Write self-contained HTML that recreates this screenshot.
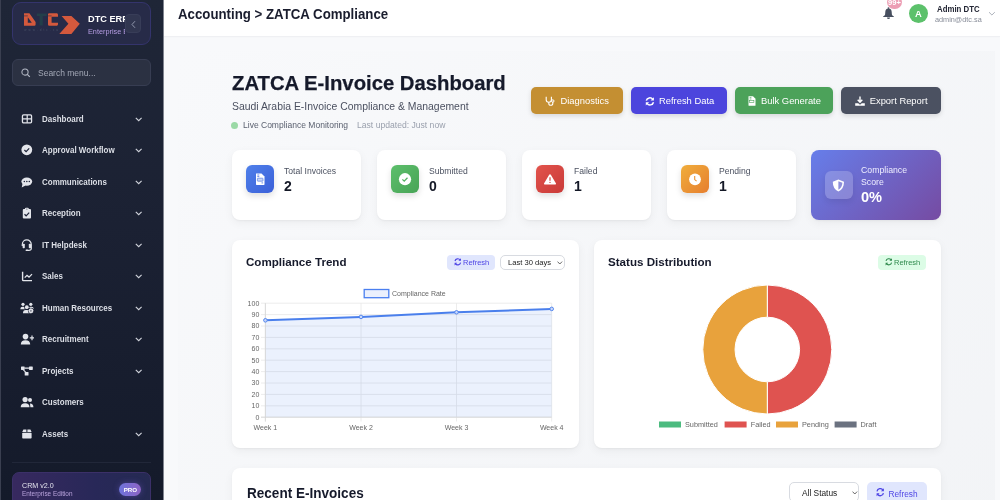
<!DOCTYPE html>
<html><head><meta charset="utf-8">
<style>
*{box-sizing:border-box;margin:0;padding:0}
html,body{width:1000px;height:500px;overflow:hidden;background:#f7f8fa;font-family:"Liberation Sans",Arial,sans-serif;}
.a{position:absolute;white-space:nowrap}
#sb{position:absolute;left:0;top:0;width:163px;height:500px;background:linear-gradient(180deg,#1f2637 0%,#1b2133 45%,#141a2a 100%);overflow:hidden}
#logo{position:absolute;left:12px;top:2px;width:139px;height:42.8px;border-radius:9px;background:#272b48;border:1px solid #34346c;overflow:hidden}
#collapse{position:absolute;left:125px;top:14px;width:16px;height:19px;border-radius:4px;background:#313650;border:1px solid #383d58}
#search{position:absolute;left:12px;top:59px;width:139px;height:27px;border-radius:6px;background:#2b3142;border:1px solid #373d52;}
.mi{position:absolute;left:0;width:163px;height:16px;color:#dcdfe6;font-weight:bold;font-size:8.6px;}
.mi .t{position:absolute;left:42px;top:3.3px;white-space:nowrap;transform:scaleX(.93);transform-origin:0 0}
.mi svg.ic{position:absolute;left:20px;top:1px}
.mi svg.ch{position:absolute;left:135px;top:6px}
#hdr{position:absolute;left:163px;top:0;width:837px;height:37.4px;background:#fff;border-bottom:1px solid #eff0f3;box-shadow:0 0 2px rgba(0,0,0,.03)}
.card{position:absolute;background:#fff;border-radius:8px;box-shadow:0 3px 10px rgba(0,0,0,.05),0 1px 2px rgba(0,0,0,.04)}
.btn{position:absolute;top:87px;height:27px;border-radius:5px;color:#fff;font-size:9.4px;box-shadow:0 2px 5px rgba(0,0,0,.13)}
.btn span{position:absolute;top:8px}
.btn svg{position:absolute}
.sc .ib{position:absolute;left:14px;top:15px;width:28px;height:28px;border-radius:6px;box-shadow:0 3px 6px rgba(0,0,0,.13)}
.sc .ib svg{position:absolute;left:0;top:0}
.sc .lb{position:absolute;left:52px;top:16px;font-size:8.6px;color:#4b5160;white-space:nowrap}
.sc .vl{position:absolute;left:52px;top:27.5px;font-size:14px;font-weight:bold;color:#141826}
.ct{position:absolute;font-size:11.6px;font-weight:bold;color:#161a2b;white-space:nowrap}
.rbtn{position:absolute;height:15px;border-radius:4px;font-size:7.5px;}
.sel{position:absolute;height:16px;border-radius:5px;background:#fff;border:1px solid #d8dbe1;font-size:7.6px;color:#222}
</style></head><body>
<div id="root" style="position:absolute;left:0;top:0;width:1000px;height:500px;will-change:transform;background:#f8f9fb">
<div id="sb"><div class="a" style="left:0;top:0;width:1.3px;height:500px;background:#3a3f50"></div>
  <div id="logo">
    <svg class="a" style="left:-1px;top:-1px" width="139" height="42" viewBox="12 2 139 42">
      <path fill="#d4593d" fill-rule="evenodd" d="M24 13.2H29.4L35.6 22V24.6Q35.6 25.8 34.4 25.8H24ZM27.8 17.2V22.8H31.8Z"/>
      <path fill="#233f4a" d="M36.8 13.4H46.8V16H42.8V25.6H39.6V16H36.8Z"/>
      <path fill="#d4593d" d="M48 14.4Q48 13.2 49.2 13.2H57.2L58 14.6V16.8H51.6V22.8H58V24.4L57.2 25.8H49.2Q48 25.8 48 24.6Z"/>
      <path stroke="#282b4a" stroke-width=".6" d="M24 15.9H27.8M48 15.9H51.6"/>
      <path fill="#d4593d" d="M61.6 16.1H71.4L79.8 23.8L71.4 34H59.3L68.4 23.8Z"/>
      <text x="24.3" y="30.7" font-size="3" fill="#485066" letter-spacing="2.05" font-family="Liberation Sans">www.dtc.sa</text>
    </svg>
    <div class="a" style="left:75px;top:0;width:37px;height:40px;overflow:hidden">
    <div class="a" style="left:0;top:11px;color:#fff;font-weight:bold;font-size:9.2px;">DTC ERP</div>
    <div class="a" style="left:0;top:24px;color:#b59ce2;font-size:7.3px;">Enterprise Edition</div></div>
  </div>
  <div id="collapse"><svg class="a" style="left:4px;top:5px" width="8" height="9"><path d="M5 1.2L2 4.5L5 7.8" fill="none" stroke="#9aa0b5" stroke-width="0.9"/></svg></div>
  <div id="search">
    <svg class="a" style="left:8px;top:8px" width="10" height="10"><circle cx="4" cy="4" r="3.1" fill="none" stroke="#b3b8c4" stroke-width="1.05"/><path d="M6.3 6.3L8.8 8.8" stroke="#b3b8c4" stroke-width="1.2"/></svg>
    <div class="a" style="left:25px;top:7.7px;color:#a3a8b6;font-size:8.5px;">Search menu...</div>
  </div>
  <div class="mi" style="top:110.5px"><svg class="ic" width="14" height="14"><rect x="2.45" y="2.95" width="9.1" height="7.9" rx="1.1" fill="none" stroke="#e3e5eb" stroke-width="1.3"/><path d="M7.2 2.95v7.9M2.45 6.9h9.1" stroke="#e3e5eb" stroke-width="1.2"/></svg><span class="t">Dashboard</span><svg class="ch" width="8" height="5"><path d="M.8.8L3.7 3.6 6.6.8" fill="none" stroke="#d0d3db" stroke-width="1.15"/></svg></div>
  <div class="mi" style="top:142px"><svg class="ic" width="14" height="14"><circle cx="6.8" cy="6.8" r="5.4" fill="#e3e5eb"/><path d="M4.4 7l1.7 1.6 3.1-3.2" fill="none" stroke="#1c2236" stroke-width="1.2"/></svg><span class="t">Approval Workflow</span><svg class="ch" width="8" height="5"><path d="M.8.8L3.7 3.6 6.6.8" fill="none" stroke="#d0d3db" stroke-width="1.15"/></svg></div>
  <div class="mi" style="top:173.5px"><svg class="ic" width="14" height="14"><ellipse cx="6.8" cy="6.6" rx="5.4" ry="4.2" fill="#e3e5eb"/><path d="M2.6 8.5L1.7 12.4L5.5 10.5Z" fill="#e3e5eb"/><circle cx="4.3" cy="6.6" r=".75" fill="#1c2236"/><circle cx="6.8" cy="6.6" r=".75" fill="#1c2236"/><circle cx="9.3" cy="6.6" r=".75" fill="#1c2236"/></svg><span class="t">Communications</span><svg class="ch" width="8" height="5"><path d="M.8.8L3.7 3.6 6.6.8" fill="none" stroke="#d0d3db" stroke-width="1.15"/></svg></div>
  <div class="mi" style="top:205px"><svg class="ic" width="14" height="14"><rect x="2.8" y="3" width="8.2" height="9.5" rx="1" fill="#e3e5eb"/><rect x="4.9" y="1.7" width="3.9" height="2.6" rx="1.2" fill="#e3e5eb"/><circle cx="6.9" cy="3" r=".55" fill="#1c2236"/><path d="M4.5 8.3l1.6 1.5 3.1-3.2" fill="none" stroke="#1c2236" stroke-width="1.2"/></svg><span class="t">Reception</span><svg class="ch" width="8" height="5"><path d="M.8.8L3.7 3.6 6.6.8" fill="none" stroke="#d0d3db" stroke-width="1.15"/></svg></div>
  <div class="mi" style="top:236.5px"><svg class="ic" width="14" height="14"><path d="M2.3 8V6.4a4.5 4.5 0 0 1 9 0V10.5q0 1.8-2.5 1.8H6.5" fill="none" stroke="#e3e5eb" stroke-width="1.2"/><rect x="2.6" y="5.8" width="2.2" height="4.4" rx=".8" fill="#e3e5eb"/><rect x="8.8" y="5.8" width="2.2" height="4.4" rx=".8" fill="#e3e5eb"/><rect x="5.5" y="11.4" width="2.5" height="1.6" rx=".8" fill="#e3e5eb"/></svg><span class="t">IT Helpdesk</span><svg class="ch" width="8" height="5"><path d="M.8.8L3.7 3.6 6.6.8" fill="none" stroke="#d0d3db" stroke-width="1.15"/></svg></div>
  <div class="mi" style="top:268px"><svg class="ic" width="14" height="14"><path d="M2.6 2.8V10.8Q2.6 11.6 3.4 11.6H12" fill="none" stroke="#e3e5eb" stroke-width="1.4"/><path d="M4.7 8.6L7 6.3l2 1.8 3-3" fill="none" stroke="#e3e5eb" stroke-width="1.3"/></svg><span class="t">Sales</span><svg class="ch" width="8" height="5"><path d="M.8.8L3.7 3.6 6.6.8" fill="none" stroke="#d0d3db" stroke-width="1.15"/></svg></div>
  <div class="mi" style="top:299.5px"><svg class="ic" width="14" height="14"><g fill="#e3e5eb"><circle cx="3" cy="3.3" r="1.6"/><path d="M0.3 8.2q0-2.4 2.2-2.4h.9q2.2 0 2.2 2.4z"/><circle cx="10.8" cy="3.3" r="1.6"/><path d="M8.4 8.2q0-2.4 2.2-2.4h.9q2.2 0 2.2 2.4z"/></g><circle cx="6.8" cy="6.2" r="2.6" fill="#1b2134"/><path d="M2.3 12.6q0-3.8 3.2-3.8h1.4q3.2 0 3.2 3.8z" fill="#1b2134"/><g fill="#e3e5eb"><circle cx="6.8" cy="6.2" r="1.9"/><path d="M3 12.3q0-3.2 2.8-3.2h1.6q2.8 0 2.8 3.2z"/></g><circle cx="10.9" cy="9.8" r="3" fill="#1b2134"/><circle cx="10.9" cy="9.8" r="1.7" fill="none" stroke="#e3e5eb" stroke-width="1.3"/><path d="M10.9 7.2v5.2M8.3 9.8h5.2M9.1 8l3.6 3.6M12.7 8l-3.6 3.6" stroke="#e3e5eb" stroke-width=".8"/><circle cx="10.9" cy="9.8" r=".6" fill="#1b2134"/></svg><span class="t">Human Resources</span><svg class="ch" width="8" height="5"><path d="M.8.8L3.7 3.6 6.6.8" fill="none" stroke="#d0d3db" stroke-width="1.15"/></svg></div>
  <div class="mi" style="top:331px"><svg class="ic" width="14" height="14"><circle cx="5.5" cy="4.6" r="2.8" fill="#e3e5eb"/><path d="M0.8 12.6q0-4.3 4.7-4.3t4.7 4.3z" fill="#e3e5eb"/><path d="M12 3.6v4.6M9.8 5.9h4.4" stroke="#e3e5eb" stroke-width="1.2"/></svg><span class="t">Recruitment</span><svg class="ch" width="8" height="5"><path d="M.8.8L3.7 3.6 6.6.8" fill="none" stroke="#d0d3db" stroke-width="1.15"/></svg></div>
  <div class="mi" style="top:362.5px"><svg class="ic" width="14" height="14"><rect x="1" y="2.4" width="3.7" height="3.5" rx=".6" fill="#e3e5eb"/><rect x="9" y="2.4" width="3.8" height="3.5" rx=".6" fill="#e3e5eb"/><rect x="4.7" y="8" width="3.8" height="3.6" rx=".6" fill="#e3e5eb"/><path d="M4.6 4.1h4.6M3.2 5.6l2.8 3" stroke="#e3e5eb" stroke-width="1.1"/></svg><span class="t">Projects</span><svg class="ch" width="8" height="5"><path d="M.8.8L3.7 3.6 6.6.8" fill="none" stroke="#d0d3db" stroke-width="1.15"/></svg></div>
  <div class="mi" style="top:394px"><svg class="ic" width="14" height="14"><circle cx="5.1" cy="4.6" r="2.6" fill="#e3e5eb"/><path d="M0.7 12.2q0-4 4.4-4t4.4 4z" fill="#e3e5eb"/><circle cx="10" cy="5" r="2" fill="#e3e5eb"/><path d="M10 8.6q3.3 0 3.4 3.6h-3z" fill="#e3e5eb"/></svg><span class="t">Customers</span></div>
  <div class="mi" style="top:425.5px"><svg class="ic" width="14" height="14"><path d="M2.2 5L3.4 2.5h3V5zM7.4 2.5h3L11.6 5H7.4z" fill="#e3e5eb"/><rect x="2.2" y="5.8" width="9.4" height="5.7" rx=".8" fill="#e3e5eb"/></svg><span class="t">Assets</span><svg class="ch" width="8" height="5"><path d="M.8.8L3.7 3.6 6.6.8" fill="none" stroke="#d0d3db" stroke-width="1.15"/></svg></div>
  <div class="a" style="left:12px;top:462px;width:139px;height:1px;background:#212739"></div>
  <div class="a" style="left:12px;top:472px;width:139px;height:40px;border-radius:7px;background:linear-gradient(90deg,#37295f,#282858 60%,#252a52);border:1px solid #3b3068">
    <div class="a" style="left:9px;top:7.6px;color:#e2e2ec;font-size:7.6px;transform:scaleX(.94);transform-origin:0 0">CRM v2.0</div>
    <div class="a" style="left:9px;top:17.3px;color:#b9a3dc;font-size:6.4px">Enterprise Edition</div>
    <div class="a" style="left:106.4px;top:9.5px;width:22px;height:13.5px;border-radius:7px;background:linear-gradient(90deg,#6e74dc,#8d63c4);color:#fff;font-size:6.2px;font-weight:bold;text-align:center;line-height:13.5px;box-shadow:0 0 6px rgba(120,100,220,.4)">PRO</div>
  </div>
</div>
<div class="a" style="left:178px;top:51.4px;width:817px;height:1500px;background:linear-gradient(135deg,#f8f9fb 0%,#eef0f3 100%)"></div>
<div class="a" style="left:163px;top:0;width:1px;height:500px;background:#80848f;z-index:5"></div>
<div id="hdr">
  <div class="a" style="left:15px;top:5.7px;font-size:14.66px;font-weight:bold;color:#1a1d2e;transform:scaleX(.904);transform-origin:0 0">Accounting &gt; ZATCA Compliance</div>
  <svg class="a" style="left:715px;top:0" width="25" height="25" viewBox="878 0 25 25"><circle cx="888.5" cy="8.1" r="0.9" fill="#474f5f"/><path d="M888.5 8.4C886.2 8.4 885.3 10.1 885.3 12.1L885.1 14.4C885 15.3 884.3 15.8 883.2 16.2V16.9H893.8V16.2C892.7 15.8 892 15.3 891.9 14.4L891.7 12.1C891.7 10.1 890.8 8.4 888.5 8.4Z" fill="#474f5f"/><path d="M887 17.4H890Q890 19 888.5 19Q887 19 887 17.4Z" fill="#474f5f"/></svg>
  <div class="a" style="left:724px;top:-5.5px;width:15px;height:14.5px;border-radius:8px;background:#ec9eb4;color:#fff;font-size:7.6px;font-weight:bold;text-align:center;line-height:15px">99+</div>
  <div class="a" style="left:745.8px;top:3.8px;width:19px;height:19px;border-radius:50%;background:#5cc16b;color:#fff;font-size:9.4px;font-weight:bold;text-align:center;line-height:19.6px">A</div>
  <div class="a" style="left:773.8px;top:3.9px;font-size:8.5px;font-weight:bold;color:#232634;transform:scaleX(.92);transform-origin:0 0">Admin DTC</div>
  <div class="a" style="left:771.6px;top:14.8px;font-size:7.6px;color:#878c98;transform:scaleX(.96);transform-origin:0 0">admin@dtc.sa</div>
  <svg class="a" style="left:825px;top:11px" width="8" height="6"><path d="M1 1.2l2.9 2.8 2.9-2.8" fill="none" stroke="#a3a8b2" stroke-width=".9"/></svg>
</div>
<div class="a" style="left:232.3px;top:70.9px;font-size:20.7px;font-weight:bold;color:#161a2b;transform:scaleX(.98);transform-origin:0 0;-webkit-text-stroke:.25px #161a2b">ZATCA E-Invoice Dashboard</div>
<div class="a" style="left:232px;top:100.8px;font-size:10.42px;color:#4b5060">Saudi Arabia E-Invoice Compliance &amp; Management</div>
<div class="a" style="left:231px;top:121.8px;width:7px;height:7px;border-radius:50%;background:#9bd9a6"></div>
<div class="a" style="left:243px;top:120.3px;font-size:8.52px;color:#5b6170">Live Compliance Monitoring</div>
<div class="a" style="left:357px;top:120.3px;font-size:8.6px;color:#9aa0ad">Last updated: Just now</div>

<div class="btn" style="left:531px;width:92px;background:#c48f32"><svg style="left:14px;top:9px" width="10" height="10"><path d="M1.2 0.8v3q0 2.4 2.6 2.4t2.6-2.4v-3M3.8 6.2v1.2q0 1.9 2 1.9t2-1.9V6" fill="none" stroke="#fff" stroke-width="1.1"/><circle cx="7.8" cy="5" r="1.2" fill="none" stroke="#fff" stroke-width="1"/></svg><span style="left:29.5px">Diagnostics</span></div>
<div class="btn" style="left:631px;width:96px;background:#4c45dd"><svg style="left:13.5px;top:9.5px" width="10" height="9"><path d="M1.3 3.6A3.6 3.6 0 0 1 7.8 2.5M8.5 5.2A3.6 3.6 0 0 1 2 6.3" fill="none" stroke="#fff" stroke-width="1.5"/><path d="M8.9 0.3V3.6H5.6zM0.8 8.6V5.3H4.1z" fill="#fff"/></svg><span style="left:28px">Refresh Data</span></div>
<div class="btn" style="left:735px;width:98px;background:#4ca25a"><svg style="left:13px;top:9px" width="8" height="10"><path d="M0.5 0.3h4.5l2.5 2.5v6.4q0 .6-.6.6H1.1q-.6 0-.6-.6z" fill="#fff"/><path d="M1.6 1.6h1.8M1.6 3h1.8" stroke="#4ca25a" stroke-width=".7"/><rect x="1.6" y="4.3" width="4.3" height="2.3" fill="none" stroke="#4ca25a" stroke-width=".6"/></svg><span style="left:26px">Bulk Generate</span></div>
<div class="btn" style="left:841px;width:100px;background:#4b5161"><svg style="left:14px;top:8.5px" width="10" height="11"><path d="M5 0.5v5.6M2.7 3.8L5 6.2l2.3-2.4" fill="none" stroke="#fff" stroke-width="1.4"/><path d="M0.2 7.2h3l1.8 1.6 1.8-1.6h3v2.6H0.2z" fill="#fff"/></svg><span style="left:28.7px">Export Report</span></div>

<div class="card sc" style="left:232px;top:150px;width:129px;height:70px"><div class="ib" style="background:linear-gradient(135deg,#4f80ea,#3b60d8)"><svg width="28" height="28"><path d="M10 8.5h5.5l3 3V19.3q0 .6-.6.6H10.6q-.6 0-.6-.6z" fill="#fff"/><path d="M11.3 10h2M11.3 11.6h2M15.5 17.9h1.6" stroke="#4570e2" stroke-width=".8"/><rect x="11.4" y="13.2" width="5.6" height="3" rx=".5" fill="#c9d6f7" stroke="#4570e2" stroke-width=".6"/></svg></div><div class="lb">Total Invoices</div><div class="vl">2</div></div>
<div class="card sc" style="left:377px;top:150px;width:129px;height:70px"><div class="ib" style="background:linear-gradient(135deg,#5dbf6c,#48a456)"><svg width="28" height="28"><circle cx="14" cy="14.2" r="6.1" fill="#fff"/><path d="M11.4 14.4l1.8 1.7 3.3-3.3" fill="none" stroke="#54b262" stroke-width="1.3"/></svg></div><div class="lb">Submitted</div><div class="vl">0</div></div>
<div class="card sc" style="left:522px;top:150px;width:129px;height:70px"><div class="ib" style="background:linear-gradient(135deg,#e2534c,#c93a38)"><svg width="28" height="28"><path d="M14 9.2Q14.5 9.2 14.8 9.7L20 18.6Q20.3 19.4 19.5 19.4H8.5Q7.7 19.4 8 18.6L13.2 9.7Q13.5 9.2 14 9.2Z" fill="#fff"/><path d="M14 12.2v3.6" stroke="#d54542" stroke-width="1.2"/><circle cx="14" cy="17.4" r=".7" fill="#d54542"/></svg></div><div class="lb">Failed</div><div class="vl">1</div></div>
<div class="card sc" style="left:667px;top:150px;width:129px;height:70px"><div class="ib" style="background:linear-gradient(135deg,#f0ae3c,#e67e2e)"><svg width="28" height="28"><circle cx="14" cy="14.3" r="5.9" fill="#fff"/><path d="M13.7 11v3.6l1.9 1.6" fill="none" stroke="#eb9535" stroke-width="1.1"/></svg></div><div class="lb">Pending</div><div class="vl">1</div></div>
<div class="card" style="left:811px;top:150px;width:130px;height:70px;background:linear-gradient(135deg,#667eea,#764ba2)">
  <div class="a" style="left:14px;top:21px;width:27.5px;height:28px;border-radius:6px;background:rgba(255,255,255,.2);box-shadow:0 3px 6px rgba(0,0,0,.08)"><svg width="28" height="28"><path d="M13.4 8.4L19 10.7Q19 18 13.4 20.4Q7.8 18 7.8 10.7Z" fill="#fff"/><path d="M13.4 10.2L17.4 11.8Q17.1 16.9 13.4 18.7Z" fill="#8d8fdb"/></svg></div>
  <div class="a" style="left:50px;top:15px;font-size:8.72px;color:#eef;line-height:11.9px">Compliance<br>Score</div>
  <div class="a" style="left:50px;top:39.2px;font-size:14.6px;font-weight:bold;color:#fff">0%</div>
</div>

<div class="card" style="left:232px;top:240px;width:346.8px;height:207.6px">
  <div class="ct" style="left:14px;top:15px">Compliance Trend</div>
  <div class="rbtn" style="left:215px;top:15px;width:48px;background:#e0e6fd;color:#4f46e5"><svg class="a" style="left:6.5px;top:3.4px" width="8" height="8"><path d="M1 3A2.9 2.9 0 0 1 6.2 2M6.6 4.6A2.9 2.9 0 0 1 1.4 5.6" fill="none" stroke="#4f46e5" stroke-width="1.2"/><path d="M7 0.2V2.8H4.4zM0.6 7.4V4.8h2.6z" fill="#4f46e5"/></svg><span class="a" style="left:16px;top:3.2px">Refresh</span></div>
  <div class="sel" style="left:268px;top:14.5px;width:65px;height:15.5px"><span class="a" style="left:7px;top:2.7px">Last 30 days</span><svg class="a" style="left:56px;top:5.5px" width="6" height="4"><path d="M.5.6L2.8 3 5.1.6" fill="none" stroke="#444" stroke-width=".8"/></svg></div>
  <svg class="a" style="left:0;top:0" width="346" height="208" font-family="Liberation Sans" font-size="7" fill="#666">
    <rect x="132.2" y="49.5" width="24.6" height="8.2" fill="#ebf0fd" stroke="#4a7ff0" stroke-width="1.3"/>
    <text x="160" y="56">Compliance Rate</text>
    <g stroke="#e7e7e7" stroke-width=".8">
      <path d="M29 63.2H319.7M29 74.6H319.7M29 86H319.7M29 97.4H319.7M29 108.8H319.7M29 120.2H319.7M29 131.6H319.7M29 143H319.7M29 154.4H319.7M29 165.8H319.7M29 177.2H319.7"/>
      <path d="M33.4 63.2V181.5M129 63.2V181.5M224.5 63.2V181.5M319.7 63.2V181.5"/>
    </g>
    <path d="M33.4 80.3L129 76.9L224.5 72.3L319.7 68.9V177.2H33.4Z" fill="rgba(70,125,236,.105)"/>
    <g stroke="#d6d6d6" stroke-width=".8"><path d="M33.4 63.2V181.5M29 177.2H319.7"/></g>
    <path d="M33.4 80.3L129 76.9L224.5 72.3L319.7 68.9" fill="none" stroke="#4a7fec" stroke-width="2"/>
    <g fill="#c9d8fa" stroke="#4a7fec" stroke-width=".9"><circle cx="33.4" cy="80.3" r="1.8"/><circle cx="129" cy="76.9" r="1.8"/><circle cx="224.5" cy="72.3" r="1.8"/><circle cx="319.7" cy="68.9" r="1.8"/></g>
    <g text-anchor="end">
      <text x="27.3" y="65.5">100</text><text x="27.3" y="76.9">90</text><text x="27.3" y="88.3">80</text><text x="27.3" y="99.7">70</text><text x="27.3" y="111.1">60</text><text x="27.3" y="122.5">50</text><text x="27.3" y="133.9">40</text><text x="27.3" y="145.3">30</text><text x="27.3" y="156.7">20</text><text x="27.3" y="168.1">10</text><text x="27.3" y="179.5">0</text>
    </g>
    <g text-anchor="middle"><text x="33.4" y="190">Week 1</text><text x="129" y="190">Week 2</text><text x="224.5" y="190">Week 3</text><text x="319.7" y="190">Week 4</text></g>
  </svg>
</div>
<div class="card" style="left:594px;top:240px;width:347px;height:207.6px">
  <div class="ct" style="left:14px;top:15px">Status Distribution</div>
  <div class="rbtn" style="left:284px;top:15px;width:48px;background:#dcfce6;color:#2f8a4d"><svg class="a" style="left:6.5px;top:3.4px" width="8" height="8"><path d="M1 3A2.9 2.9 0 0 1 6.2 2M6.6 4.6A2.9 2.9 0 0 1 1.4 5.6" fill="none" stroke="#2f8a4d" stroke-width="1.05"/><path d="M7 0.2V2.8H4.4zM0.6 7.4V4.8h2.6z" fill="#2f8a4d"/></svg><span class="a" style="left:16px;top:3.2px">Refresh</span></div>
  <svg class="a" style="left:0;top:0" width="347" height="208" font-family="Liberation Sans" font-size="7.3" fill="#666">
        <path d="M173.3 45A64.5 64.5 0 0 1 173.3 174V141.8A32.3 32.3 0 0 0 173.3 77.2Z" fill="#df5350" stroke="#fff" stroke-width="1"/>
    <path d="M173.3 174A64.5 64.5 0 0 1 173.3 45V77.2A32.3 32.3 0 0 0 173.3 141.8Z" fill="#e8a23c" stroke="#fff" stroke-width="1"/>
    <rect x="65" y="181.5" width="22" height="6" fill="#4cbb7f"/><text x="91" y="187.3">Submitted</text>
    <rect x="130.6" y="181.5" width="22" height="6" fill="#df5350"/><text x="156.7" y="187.3">Failed</text>
    <rect x="182" y="181.5" width="22" height="6" fill="#e8a23c"/><text x="208" y="187.3">Pending</text>
    <rect x="240.6" y="181.5" width="22" height="6" fill="#6b7280"/><text x="266.6" y="187.3">Draft</text>
  </svg>
</div>
<div class="card" style="left:232px;top:468px;width:709px;height:60px">
  <div class="ct" style="left:14.5px;top:16.6px;font-size:14.2px;transform:scaleX(.955);transform-origin:0 0">Recent E-Invoices</div>
  <div class="sel" style="left:557px;top:14px;width:70px;height:20px;border-radius:5px"><span class="a" style="left:12px;top:5.3px;font-size:8.35px">All Status</span><svg class="a" style="left:62px;top:8px" width="6" height="4"><path d="M.5.6L2.8 3 5.1.6" fill="none" stroke="#444" stroke-width=".8"/></svg></div>
  <div class="rbtn" style="left:634.5px;top:14px;width:60.5px;height:22px;border-radius:5px;background:#e0e6fd;color:#4f46e5;font-size:8.3px"><svg class="a" style="left:9px;top:6px" width="9" height="9"><path d="M1 3.3A3.2 3.2 0 0 1 6.9 2.2M7.4 5.1A3.2 3.2 0 0 1 1.5 6.2" fill="none" stroke="#4f46e5" stroke-width="1.3"/><path d="M7.9 0.2V3.2H4.9zM0.6 8.2V5.2h3z" fill="#4f46e5"/></svg><span class="a" style="left:22px;top:6.5px">Refresh</span></div>
</div>
</div>
</body></html>
